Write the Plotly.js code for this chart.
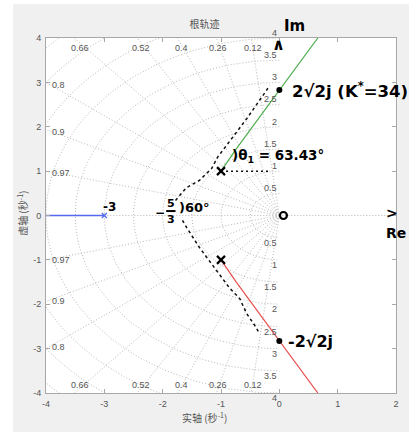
<!DOCTYPE html>
<html><head><meta charset="utf-8">
<script src="https://cdn.plot.ly/plotly-3.0.1.min.js"></script>
<style>html,body{margin:0;padding:0;background:#fff}#plot{width:409px;height:432px}</style>
</head><body><div id="plot"></div>
<script>
// ---- data ----
const poles_x = [-3, -1, -1];
const poles_y = [0, 1, -1];
const branch_blue_x = [-3, -4];
const branch_blue_y = [0, 0];
const branch_green_x = [-1, -0.9, -0.75, -0.5, -0.25, 0, 0.25, 0.5, 0.66];
const branch_green_y = [1, 1.196, 1.48, 1.93, 2.38, 2.83, 3.27, 3.71, 4.0];
const branch_red_x = [-1, -0.9, -0.75, -0.5, -0.25, 0, 0.25, 0.5, 0.66];
const branch_red_y = [-1, -1.196, -1.48, -1.93, -2.38, -2.83, -3.27, -3.71, -4.0];
const sketch_up_x = [-1.78, -1.59, -1.37, -1.16, -1.06, -0.80, -0.56, -0.22, -0.17];
const sketch_up_y = [0.34, 0.63, 0.79, 1.06, 1.31, 1.76, 2.18, 2.82, 2.93];
const sketch_dn_x = [-1.66, -1.59, -1.37, -1.14, -0.85, -0.68, -0.56, -0.42, -0.34];
const sketch_dn_y = [-0.11, -0.27, -0.72, -1.13, -1.64, -1.87, -2.21, -2.48, -2.66];
const cross_x = [0, 0];
const cross_y = [2.83, -2.83];
const zetas = [0.12, 0.26, 0.4, 0.52, 0.66, 0.8, 0.9, 0.97];
const zeta_labels = ['0.12', '0.26', '0.4', '0.52', '0.66', '0.8', '0.9', '0.97'];
const wns = [0.5, 1, 1.5, 2, 2.5, 3, 3.5, 4, 4.5, 5, 5.5];
const wn_labels = ['0.5', '1', '1.5', '2', '2.5', '3', '3.5', '4'];
const xticks = [-4, -3, -2, -1, 0, 1, 2];
const yticks = [-4, -3, -2, -1, 0, 1, 2, 3, 4];

// ---- grid geometry ----
const gx = [], gy = [];
zetas.forEach(z => {
  const s = Math.sqrt(1 - z * z);
  gx.push(0, -8 * z, null, 0, -8 * z, null);
  gy.push(0, 8 * s, null, 0, -8 * s, null);
});
gx.push(0, -8, null, 0, 2, null); gy.push(0, 0, null, 0, 0, null);
wns.forEach(w => {
  for (let a = 90; a <= 270; a += 2) {
    gx.push(w * Math.cos(a * Math.PI / 180));
    gy.push(w * Math.sin(a * Math.PI / 180));
  }
  gx.push(null); gy.push(null);
});

const gridCol = '#b8b8b8';
const blue = '#5468f2';
const traces = [
  {x: gx, y: gy, mode: 'lines', line: {color: gridCol, width: 1, dash: '1px,2px'}, hoverinfo: 'skip'},
  {x: branch_blue_x, y: branch_blue_y, mode: 'lines', line: {color: blue, width: 1.3}},
  {x: branch_green_x, y: branch_green_y, mode: 'lines', line: {color: '#4fae4f', width: 1.2}},
  {x: branch_red_x, y: branch_red_y, mode: 'lines', line: {color: '#e8504f', width: 1.2}},
  {x: [poles_x[0]], y: [poles_y[0]], mode: 'markers', marker: {symbol: 'x-thin', size: 5, color: blue, line: {color: blue, width: 1.2}}},
  {x: sketch_up_x, y: sketch_up_y, mode: 'lines', line: {color: '#111', width: 1.5, dash: '3px,3px'}},
  {x: sketch_dn_x, y: sketch_dn_y, mode: 'lines', line: {color: '#111', width: 1.5, dash: '3px,3px'}},
  {x: [-1, -0.15], y: [1, 1], mode: 'lines', line: {color: '#111', width: 1.5, dash: '2px,3px'}},
  {x: poles_x.slice(1), y: poles_y.slice(1), mode: 'markers', marker: {symbol: 'x-thin', size: 8, color: '#000', line: {color: '#000', width: 2.2}}},
  {x: cross_x, y: cross_y, mode: 'markers', marker: {symbol: 'circle', size: 6, color: '#000'}},
  {x: [0.07], y: [0], mode: 'markers', marker: {symbol: 'circle-open', size: 7, color: '#000', line: {color: '#000', width: 2.2}}}
];

const labFont = {family: 'Liberation Sans, Arial', size: 9, color: '#555'};
const annotations = [];
const topX = [-0.45, -1.06, -1.68, -2.38, -3.41];
for (let i = 0; i < 5; i++) {
  annotations.push({x: topX[i], y: 3.78, text: zeta_labels[i], showarrow: false, font: labFont});
  annotations.push({x: topX[i], y: -3.81, text: zeta_labels[i], showarrow: false, font: labFont});
}
const sideY = [2.93, 1.88, 0.96];
for (let i = 0; i < 3; i++) {
  annotations.push({x: -3.94, y: sideY[i], xanchor: 'left', text: zeta_labels[5 + i], showarrow: false, font: labFont});
  annotations.push({x: -3.94, y: -sideY[i] - 0.04, xanchor: 'left', text: zeta_labels[5 + i], showarrow: false, font: labFont});
}
wns.slice(0, 8).forEach((w, i) => {
  annotations.push({x: 0, y: w - 0.04, xanchor: 'right', yanchor: 'bottom', text: wn_labels[i], showarrow: false, font: labFont});
  annotations.push({x: 0, y: -w + 0.04, xanchor: 'right', yanchor: 'top', text: wn_labels[i], showarrow: false, font: labFont});
});
// axis titles
annotations.push({xref: 'paper', yref: 'paper', x: 0.454, y: -0.068, xanchor: 'center', yanchor: 'middle', text: '实轴 (秒<sup>-1</sup>)', showarrow: false,
  font: {family: 'Noto Sans CJK SC', size: 10, color: '#555'}});
annotations.push({xref: 'paper', yref: 'paper', x: -0.069, y: 0.507, xanchor: 'center', yanchor: 'middle', text: '虚轴 (秒<sup>-1</sup>)', textangle: -90, showarrow: false,
  font: {family: 'Noto Sans CJK SC', size: 10, color: '#555'}});
// handwritten notes
const hwFont = size => ({family: 'DejaVu Sans', size: size, color: '#000', weight: 'bold'});
const hw = (x, y, t, size, anchor) => ({x: x, y: y, text: t, showarrow: false, xanchor: anchor || 'center', yanchor: 'middle', font: hwFont(size)});
annotations.push({xref: 'paper', yref: 'paper', x: 0.71, y: 1.033, xanchor: 'center', yanchor: 'middle', text: 'Im', showarrow: false, font: hwFont(15)});
annotations.push(hw(-0.02, 3.85, '∧', 16));
annotations.push(hw(0.18, 2.82, '2√2j (K<sup>*</sup>=34)', 16.5, 'left'));
annotations.push(hw(-0.84, 1.33, ')θ<sub>1</sub> = 63.43°', 13.5, 'left'));
annotations.push(hw(-2.92, 0.2, '-3', 12));
annotations.push(hw(-2.04, 0.05, '−', 12));
annotations.push(hw(-1.86, 0.28, '5', 11));
annotations.push(hw(-1.86, -0.1, '3', 11));
annotations.push(hw(-1.75, 0.17, ')60°', 13, 'left'));
annotations.push(hw(1.93, 0.05, '>', 14));
annotations.push(hw(2.0, -0.4, 'Re', 14));
annotations.push(hw(0.12, -2.84, '-2√2j', 16, 'left'));

const layout = {
  width: 409, height: 432,
  margin: {l: 46, r: 13, t: 38, b: 39},
  paper_bgcolor: '#fff', plot_bgcolor: '#fff',
  showlegend: false,
  title: {text: '根轨迹', y: 0.944, yanchor: 'middle', x: 0.5, font: {family: 'Noto Sans CJK SC', size: 10, color: '#555'}},
  xaxis: {range: [-4, 2], tickvals: xticks, ticktext: xticks.map(String), showgrid: false, zeroline: false,
    showline: true, mirror: 'ticks', linecolor: '#a8a8a8', ticks: 'inside', ticklen: 4, tickcolor: '#a8a8a8',
    tickfont: {family: 'Liberation Sans, Arial', size: 9, color: '#555'}, ticklabelstandoff: 2},
  yaxis: {range: [-4, 4], tickvals: yticks, ticktext: yticks.map(String), showgrid: false, zeroline: false,
    showline: true, mirror: 'ticks', linecolor: '#a8a8a8', ticks: 'inside', ticklen: 4, tickcolor: '#a8a8a8',
    tickfont: {family: 'Liberation Sans, Arial', size: 9, color: '#555'}, ticklabelstandoff: 2},
  shapes: [
    {type: 'rect', xref: 'paper', yref: 'paper', x0: -0.094, x1: 1.1, y0: -0.12, y1: 1.096, fillcolor: '#f0f0f0', line: {width: 0}, layer: 'below'},
    {type: 'rect', xref: 'paper', yref: 'paper', x0: 0, x1: 1, y0: 0, y1: 1, fillcolor: '#fff', line: {width: 0}, layer: 'below'},
    {type: 'line', x0: -1.94, x1: -1.78, y0: 0.1, y1: 0.1, line: {color: '#000', width: 2}}
  ],
  annotations: annotations
};
Plotly.newPlot('plot', traces, layout, {displayModeBar: false, staticPlot: true});
</script></body></html>
